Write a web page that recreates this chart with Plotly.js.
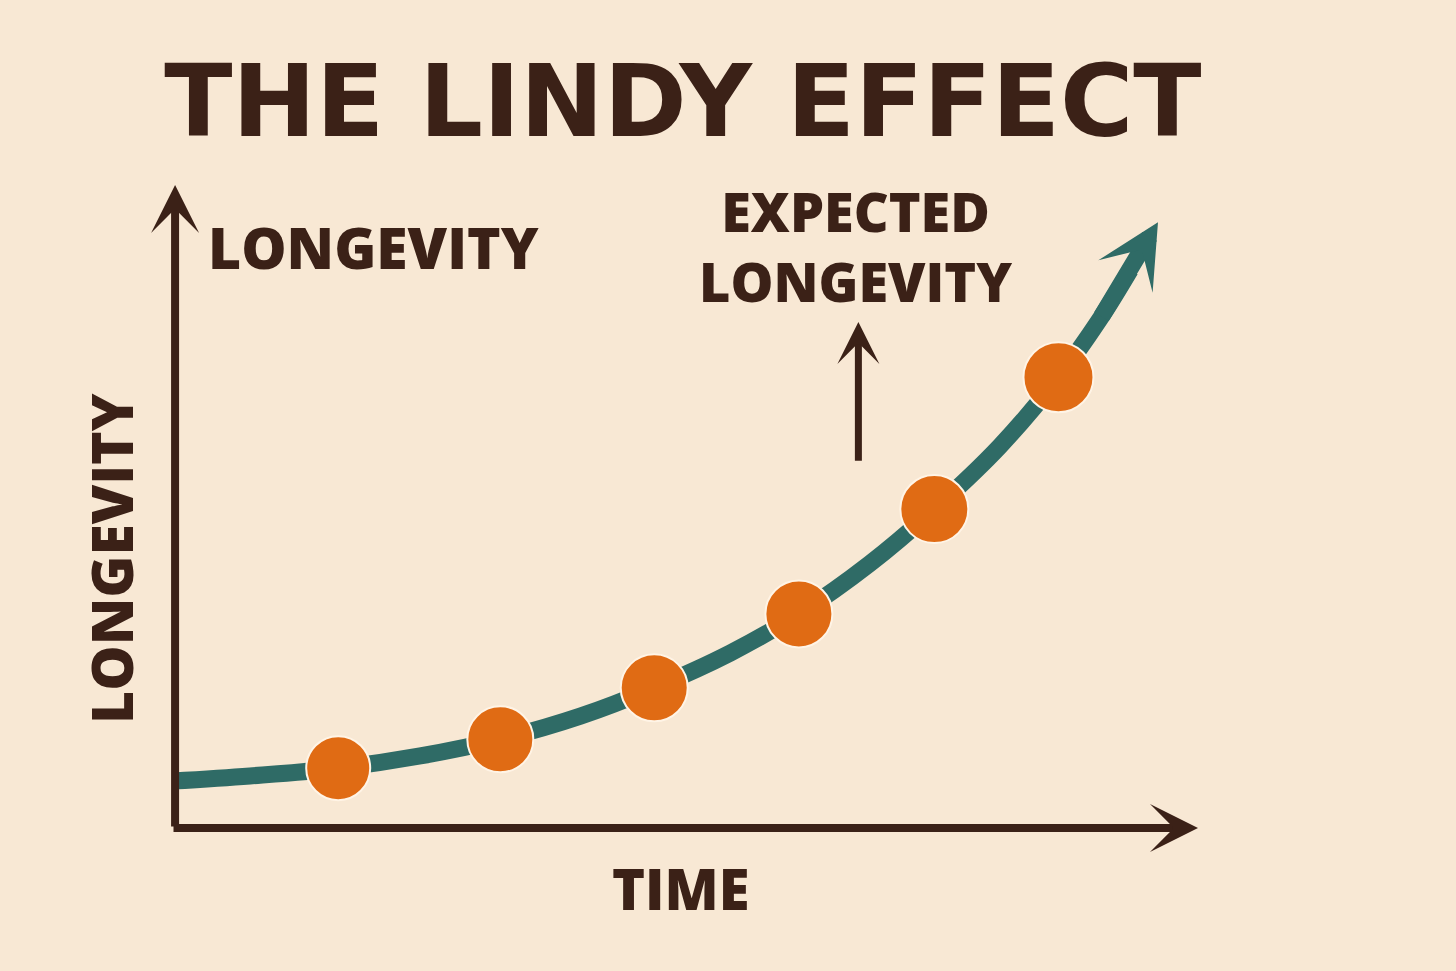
<!DOCTYPE html>
<html>
<head>
<meta charset="utf-8">
<script src="https://cdn.plot.ly/plotly-3.0.1.min.js"></script>
<style>html,body{margin:0;padding:0;background:#f8e8d4;}#chart{width:1456px;height:971px;}</style>
</head>
<body>
<div id="chart"></div>
<script>
const dotTime = [1.62, 3.20, 4.70, 6.11, 7.43, 8.64];
const dotLongevity = [0.93, 1.38, 2.18, 3.33, 4.96, 7.01];

// Smooth growth curve
const curveTime = [0, 0.76, 1.62, 2.42, 3.20, 3.98, 4.70, 5.44, 6.11, 6.80, 7.43, 8.07, 8.64, 9.05, 9.34];
const curveLongevity = [0.73, 0.81, 0.93, 1.12, 1.38, 1.74, 2.18, 2.72, 3.33, 4.11, 4.96, 5.94, 7.01, 7.93, 8.68];
const curveTip = [9.61, 9.42];

const titleText = 'THE LINDY EFFECT';
const xLabel = 'TIME';
const yLabel = 'LONGEVITY';
const noteText = 'EXPECTED<br>LONGEVITY';

const ink = '#3b2117';
const teal = '#2f6b66';
const orange = '#e06b14';
const bg = '#f8e8d4';
const font = 'Open Sans, Noto Sans, DejaVu Sans, sans-serif';

const traces = [
  {
    x: curveTime, y: curveLongevity, mode: 'lines', type: 'scatter',
    line: {color: teal, width: 17, shape: 'spline', smoothing: 1},
    hoverinfo: 'skip', cliponaxis: false
  },
  {
    x: dotTime, y: dotLongevity, mode: 'markers', type: 'scatter',
    marker: {size: [64, 66, 67, 67, 68, 70], opacity: 1, color: orange, line: {color: '#fff4e6', width: 2}},
    cliponaxis: false
  }
];

function arrow(x0, y0, x1, y1, color, width, size) {
  return {
    x: x1, y: y1, ax: x0, ay: y0, xref: 'x', yref: 'y', axref: 'x', ayref: 'y',
    text: '', showarrow: true, arrowhead: 3, arrowsize: size, arrowwidth: width, arrowcolor: color
  };
}
function label(text, x, y, size, angle) {
  return {
    x: x, y: y, xref: 'paper', yref: 'paper', text: text, showarrow: false,
    xanchor: 'center', yanchor: 'middle', textangle: angle || 0,
    font: {family: font, size: size, color: ink, weight: 800}
  };
}

const n = curveTime.length;
const annotations = [
  arrow(0.03, 0, 0.03, 10, ink, 8, 1.0),
  arrow(0, 0, 10, 0, ink, 8, 1.0),
  arrow(curveTime[n - 2], curveLongevity[n - 2], curveTip[0], curveTip[1], teal, 17, 0.62),
  arrow(6.69, 5.69, 6.69, 7.87, ink, 7, 1.0),
  label(yLabel, 0.196, 0.904, 57),
  label(yLabel, -0.0595, 0.42, 57, -90),
  label(xLabel, 0.496, -0.0933, 56),
  label(noteText, 0.666, 0.905, 54)
];

const layout = {
  width: 1456, height: 971,
  paper_bgcolor: bg, plot_bgcolor: bg,
  margin: {l: 172, r: 258, t: 185, b: 143},
  showlegend: false,
  title: {
    text: titleText, x: 0.469, xanchor: 'center', y: 0.896, yanchor: 'middle', yref: 'container',
    font: {family: 'DejaVu Sans, sans-serif', size: 100, color: ink, weight: 700}
  },
  xaxis: {range: [0, 10], showgrid: false, zeroline: false, showticklabels: false, ticks: '', showline: false, fixedrange: true},
  yaxis: {range: [0, 10], showgrid: false, zeroline: false, showticklabels: false, ticks: '', showline: false, fixedrange: true},
  annotations: annotations
};

Plotly.newPlot('chart', traces, layout, {displayModeBar: false, staticPlot: true});
</script>
</body>
</html>
